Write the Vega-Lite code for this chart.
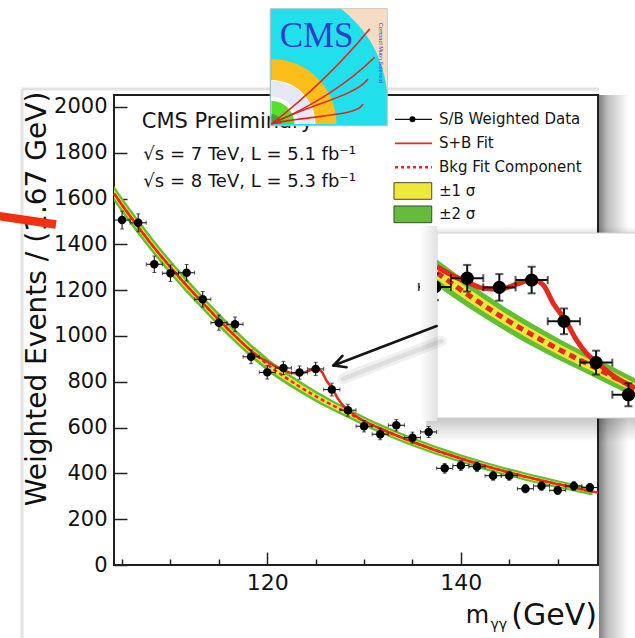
{
  "$schema": "https://vega.github.io/schema/vega-lite/v6.json",
  "width": 484,
  "height": 470,
  "autosize": {"type": "none"},
  "padding": {"left": 114, "top": 95, "right": 37, "bottom": 73},
  "background": "#ffffff",
  "config": {
    "view": {"stroke": "#1e1e1e", "strokeWidth": 2},
    "font": "DejaVu Sans",
    "axis": {"domain": false, "grid": false, "tickColor": "#222222", "tickWidth": 1.5, "labelColor": "#111111", "titleColor": "#111111", "labelFont": "DejaVu Sans", "titleFont": "DejaVu Sans", "titleFontWeight": "normal"}
  },
  "datasets": {
    "pts": [
      {"x": 105.00, "y": 1506, "lo": 1467, "hi": 1545, "xlo": 104.17, "xhi": 105.83},
      {"x": 106.67, "y": 1494, "lo": 1455, "hi": 1533, "xlo": 105.83, "xhi": 107.50},
      {"x": 108.33, "y": 1313, "lo": 1277, "hi": 1349, "xlo": 107.50, "xhi": 109.17},
      {"x": 110.00, "y": 1274, "lo": 1238, "hi": 1310, "xlo": 109.17, "xhi": 110.83},
      {"x": 111.67, "y": 1276, "lo": 1240, "hi": 1312, "xlo": 110.83, "xhi": 112.50},
      {"x": 113.33, "y": 1160, "lo": 1126, "hi": 1194, "xlo": 112.50, "xhi": 114.17},
      {"x": 115.00, "y": 1058, "lo": 1025, "hi": 1091, "xlo": 114.17, "xhi": 115.83},
      {"x": 116.67, "y": 1051, "lo": 1019, "hi": 1083, "xlo": 115.83, "xhi": 117.50},
      {"x": 118.33, "y": 909, "lo": 879, "hi": 939, "xlo": 117.50, "xhi": 119.17},
      {"x": 120.00, "y": 841, "lo": 812, "hi": 870, "xlo": 119.17, "xhi": 120.83},
      {"x": 121.67, "y": 860, "lo": 831, "hi": 889, "xlo": 120.83, "xhi": 122.50},
      {"x": 123.33, "y": 840, "lo": 811, "hi": 869, "xlo": 122.50, "xhi": 124.17},
      {"x": 125.00, "y": 856, "lo": 827, "hi": 885, "xlo": 124.17, "xhi": 125.83},
      {"x": 126.67, "y": 766, "lo": 738, "hi": 794, "xlo": 125.83, "xhi": 127.50},
      {"x": 128.33, "y": 676, "lo": 650, "hi": 702, "xlo": 127.50, "xhi": 129.17},
      {"x": 130.00, "y": 606, "lo": 581, "hi": 631, "xlo": 129.17, "xhi": 130.83},
      {"x": 131.67, "y": 571, "lo": 547, "hi": 595, "xlo": 130.83, "xhi": 132.50},
      {"x": 133.33, "y": 610, "lo": 585, "hi": 635, "xlo": 132.50, "xhi": 134.17},
      {"x": 135.00, "y": 556, "lo": 532, "hi": 580, "xlo": 134.17, "xhi": 135.83},
      {"x": 136.67, "y": 581, "lo": 557, "hi": 605, "xlo": 135.83, "xhi": 137.50},
      {"x": 138.33, "y": 422, "lo": 401, "hi": 443, "xlo": 137.50, "xhi": 139.17},
      {"x": 140.00, "y": 434, "lo": 413, "hi": 455, "xlo": 139.17, "xhi": 140.83},
      {"x": 141.67, "y": 429, "lo": 408, "hi": 450, "xlo": 140.83, "xhi": 142.50},
      {"x": 143.33, "y": 390, "lo": 370, "hi": 410, "xlo": 142.50, "xhi": 144.17},
      {"x": 145.00, "y": 390, "lo": 370, "hi": 410, "xlo": 144.17, "xhi": 145.83},
      {"x": 146.67, "y": 333, "lo": 315, "hi": 351, "xlo": 145.83, "xhi": 147.50},
      {"x": 148.33, "y": 345, "lo": 326, "hi": 364, "xlo": 147.50, "xhi": 149.17},
      {"x": 150.00, "y": 326, "lo": 308, "hi": 344, "xlo": 149.17, "xhi": 150.83},
      {"x": 151.67, "y": 345, "lo": 326, "hi": 364, "xlo": 150.83, "xhi": 152.50},
      {"x": 153.33, "y": 338, "lo": 320, "hi": 356, "xlo": 152.50, "xhi": 154.17}
    ],
    "bkg": [
      {"x": 104.17, "b": 1622, "lo1": 1605, "hi1": 1639, "lo2": 1588, "hi2": 1656},
      {"x": 105.00, "b": 1572, "lo1": 1555, "hi1": 1589, "lo2": 1538, "hi2": 1606},
      {"x": 106.67, "b": 1476, "lo1": 1460, "hi1": 1492, "lo2": 1443, "hi2": 1509},
      {"x": 108.33, "b": 1385, "lo1": 1369, "hi1": 1401, "lo2": 1352, "hi2": 1418},
      {"x": 110.00, "b": 1300, "lo1": 1284, "hi1": 1316, "lo2": 1268, "hi2": 1332},
      {"x": 111.67, "b": 1220, "lo1": 1204, "hi1": 1236, "lo2": 1188, "hi2": 1252},
      {"x": 113.33, "b": 1145, "lo1": 1130, "hi1": 1160, "lo2": 1114, "hi2": 1176},
      {"x": 115.00, "b": 1070, "lo1": 1055, "hi1": 1085, "lo2": 1039, "hi2": 1101},
      {"x": 116.67, "b": 1000, "lo1": 985, "hi1": 1015, "lo2": 970, "hi2": 1030},
      {"x": 118.33, "b": 935, "lo1": 920, "hi1": 950, "lo2": 905, "hi2": 965},
      {"x": 120.00, "b": 876, "lo1": 862, "hi1": 890, "lo2": 847, "hi2": 905},
      {"x": 120.11, "b": 872, "lo1": 858, "hi1": 886, "lo2": 843, "hi2": 901},
      {"x": 121.67, "b": 825, "lo1": 811, "hi1": 839, "lo2": 797, "hi2": 853},
      {"x": 123.33, "b": 779, "lo1": 766, "hi1": 792, "lo2": 753, "hi2": 805},
      {"x": 125.00, "b": 737, "lo1": 725, "hi1": 749, "lo2": 712, "hi2": 762},
      {"x": 126.67, "b": 699, "lo1": 687, "hi1": 711, "lo2": 676, "hi2": 722},
      {"x": 128.33, "b": 664, "lo1": 653, "hi1": 675, "lo2": 642, "hi2": 686},
      {"x": 130.00, "b": 628, "lo1": 618, "hi1": 638, "lo2": 607, "hi2": 649},
      {"x": 130.34, "b": 621, "lo1": 611, "hi1": 631, "lo2": 600, "hi2": 642},
      {"x": 131.67, "b": 596, "lo1": 586, "hi1": 606, "lo2": 575, "hi2": 617},
      {"x": 133.33, "b": 566, "lo1": 556, "hi1": 576, "lo2": 546, "hi2": 586},
      {"x": 135.00, "b": 538, "lo1": 528, "hi1": 548, "lo2": 518, "hi2": 558},
      {"x": 136.67, "b": 512, "lo1": 502, "hi1": 522, "lo2": 492, "hi2": 532},
      {"x": 138.33, "b": 488, "lo1": 479, "hi1": 497, "lo2": 469, "hi2": 507},
      {"x": 140.00, "b": 465, "lo1": 456, "hi1": 474, "lo2": 446, "hi2": 484},
      {"x": 141.67, "b": 443, "lo1": 434, "hi1": 452, "lo2": 424, "hi2": 462},
      {"x": 143.33, "b": 423, "lo1": 414, "hi1": 432, "lo2": 405, "hi2": 441},
      {"x": 145.00, "b": 404, "lo1": 395, "hi1": 413, "lo2": 386, "hi2": 422},
      {"x": 146.67, "b": 386, "lo1": 377, "hi1": 395, "lo2": 368, "hi2": 404},
      {"x": 148.33, "b": 369, "lo1": 360, "hi1": 378, "lo2": 351, "hi2": 387},
      {"x": 150.00, "b": 353, "lo1": 345, "hi1": 361, "lo2": 336, "hi2": 370},
      {"x": 151.67, "b": 338, "lo1": 330, "hi1": 346, "lo2": 321, "hi2": 355},
      {"x": 153.33, "b": 323, "lo1": 315, "hi1": 331, "lo2": 306, "hi2": 340},
      {"x": 153.60, "b": 321, "lo1": 313, "hi1": 329, "lo2": 304, "hi2": 338}
    ],
    "sb": [
      {"x": 104.17, "s": 1622}, {"x": 105.00, "s": 1572}, {"x": 106.67, "s": 1476},
      {"x": 108.33, "s": 1385}, {"x": 110.00, "s": 1300}, {"x": 111.67, "s": 1220},
      {"x": 113.33, "s": 1145}, {"x": 115.00, "s": 1070}, {"x": 116.67, "s": 1000},
      {"x": 118.33, "s": 935}, {"x": 119.20, "s": 907}, {"x": 120.11, "s": 885},
      {"x": 120.86, "s": 867}, {"x": 121.64, "s": 852}, {"x": 122.50, "s": 838},
      {"x": 123.36, "s": 836}, {"x": 124.22, "s": 847}, {"x": 125.05, "s": 857},
      {"x": 125.60, "s": 845}, {"x": 126.12, "s": 805}, {"x": 126.75, "s": 768},
      {"x": 127.32, "s": 725}, {"x": 127.84, "s": 696}, {"x": 128.44, "s": 674},
      {"x": 129.20, "s": 648}, {"x": 130.00, "s": 628}, {"x": 130.34, "s": 621},
      {"x": 131.67, "s": 596}, {"x": 133.33, "s": 566}, {"x": 135.00, "s": 538},
      {"x": 136.67, "s": 512}, {"x": 138.33, "s": 488}, {"x": 140.00, "s": 465},
      {"x": 141.67, "s": 443}, {"x": 143.33, "s": 423}, {"x": 145.00, "s": 404},
      {"x": 146.67, "s": 386}, {"x": 148.33, "s": 369}, {"x": 150.00, "s": 353},
      {"x": 151.67, "s": 338}, {"x": 153.33, "s": 323}, {"x": 154.17, "s": 316}
    ]
  },
  "resolve": {"scale": {"x": "independent", "y": "independent"}},
  "layer": [
    {
      "data": {"values": [{}]},
      "layer": [
        {
          "mark": {"type": "rule", "color": "#e2e2e2", "strokeWidth": 3},
          "encoding": {"x": {"datum": 94.66, "type": "quantitative"}, "y": {"datum": 2078, "type": "quantitative"}, "y2": {"datum": -328}}
        },
        {
          "mark": {"type": "rule", "color": "#e2e2e2", "strokeWidth": 3},
          "encoding": {"x": {"datum": 94.66, "type": "quantitative"}, "x2": {"datum": 154.27}, "y": {"datum": 2078, "type": "quantitative"}}
        },
        {
          "mark": {"type": "rect", "fill": {"gradient": "linear", "x1": 0, "y1": 0, "x2": 1, "y2": 0, "stops": [{"offset": 0, "color": "rgba(0,0,0,0.5)"}, {"offset": 0.3, "color": "rgba(0,0,0,0.25)"}, {"offset": 1, "color": "rgba(0,0,0,0)"}]}},
          "encoding": {"x": {"datum": 154.27, "type": "quantitative"}, "x2": {"datum": 157.3}, "y": {"datum": 2052, "type": "quantitative"}, "y2": {"datum": -328}}
        },
        {
          "data": {"name": "bkg"},
          "mark": {"type": "area", "color": "#62bf33", "interpolate": "monotone", "opacity": 1},
          "encoding": {
            "x": {
              "field": "x", "type": "quantitative",
              "scale": {"domain": [104.1667, 154.1667], "nice": false, "zero": false},
              "axis": {
                "title": null, "format": "d",
                "values": [105, 110, 115, 120, 125, 130, 135, 140, 145, 150],
                "labelExpr": "datum.value % 20 === 0 ? datum.label : ''",
                "labelFontSize": 22, "labelPadding": 20, "labelOverlap": false, "labelFlush": false,
                "tickSize": {"condition": {"test": "datum.value % 20 === 0", "value": -13}, "value": -6}
              }
            },
            "y": {
              "field": "lo2", "type": "quantitative",
              "scale": {"domain": [0, 2052], "nice": false, "zero": false},
              "axis": {
                "title": "Weighted Events / (1.67 GeV)", "format": "d",
                "values": [0, 50, 100, 150, 200, 250, 300, 350, 400, 450, 500, 550, 600, 650, 700, 750, 800, 850, 900, 950, 1000, 1050, 1100, 1150, 1200, 1250, 1300, 1350, 1400, 1450, 1500, 1550, 1600, 1650, 1700, 1750, 1800, 1850, 1900, 1950, 2000],
                "labelExpr": "datum.value % 200 === 0 ? datum.label : ''",
                "labelFontSize": 21, "labelPadding": 20, "labelOverlap": false, "labelFlush": false,
                "tickSize": {"condition": {"test": "datum.value % 200 === 0", "value": -13}, "value": -6},
                "titleFontSize": 28, "titleAngle": -90, "titleX": -77, "titleY": 203.5, "titleAlign": "center", "titleBaseline": "middle"
              }
            },
            "y2": {"field": "hi2"}
          }
        },
        {
          "data": {"name": "bkg"},
          "mark": {"type": "area", "color": "#efe63d", "interpolate": "monotone", "opacity": 1},
          "encoding": {"x": {"field": "x", "type": "quantitative"}, "y": {"field": "lo1", "type": "quantitative"}, "y2": {"field": "hi1"}}
        },
        {
          "data": {"name": "bkg"},
          "mark": {"type": "line", "color": "#e42a1f", "strokeWidth": 2.5, "strokeDash": [4, 3], "interpolate": "monotone"},
          "encoding": {"x": {"field": "x", "type": "quantitative"}, "y": {"field": "b", "type": "quantitative"}}
        },
        {
          "data": {"name": "sb"},
          "mark": {"type": "line", "color": "#e42a1f", "strokeWidth": 2.5, "interpolate": "monotone"},
          "encoding": {"x": {"field": "x", "type": "quantitative"}, "y": {"field": "s", "type": "quantitative"}}
        },
        {
          "data": {"name": "pts"},
          "mark": {"type": "rule", "color": "#1a1a1a", "strokeWidth": 1.1},
          "encoding": {"x": {"field": "x", "type": "quantitative"}, "y": {"field": "lo", "type": "quantitative"}, "y2": {"field": "hi"}}
        },
        {
          "data": {"name": "pts"},
          "mark": {"type": "rule", "color": "#1a1a1a", "strokeWidth": 1.1},
          "encoding": {"x": {"field": "xlo", "type": "quantitative"}, "x2": {"field": "xhi"}, "y": {"field": "y", "type": "quantitative"}}
        },
        {
          "data": {"name": "pts"},
          "mark": {"type": "tick", "orient": "horizontal", "color": "#1a1a1a", "size": 4, "thickness": 1},
          "encoding": {"x": {"field": "x", "type": "quantitative"}, "y": {"field": "hi", "type": "quantitative"}}
        },
        {
          "data": {"name": "pts"},
          "mark": {"type": "tick", "orient": "horizontal", "color": "#1a1a1a", "size": 4, "thickness": 1},
          "encoding": {"x": {"field": "x", "type": "quantitative"}, "y": {"field": "lo", "type": "quantitative"}}
        },
        {
          "data": {"name": "pts"},
          "mark": {"type": "tick", "orient": "vertical", "color": "#1a1a1a", "size": 4, "thickness": 1},
          "encoding": {"x": {"field": "xlo", "type": "quantitative"}, "y": {"field": "y", "type": "quantitative"}}
        },
        {
          "data": {"name": "pts"},
          "mark": {"type": "tick", "orient": "vertical", "color": "#1a1a1a", "size": 4, "thickness": 1},
          "encoding": {"x": {"field": "xhi", "type": "quantitative"}, "y": {"field": "y", "type": "quantitative"}}
        },
        {
          "data": {"name": "pts"},
          "mark": {"type": "circle", "color": "#000000", "size": 72, "opacity": 1},
          "encoding": {"x": {"field": "x", "type": "quantitative"}, "y": {"field": "y", "type": "quantitative"}}
        },
        {
          "mark": {"type": "text", "text": "CMS Preliminary", "font": "DejaVu Sans", "fontSize": 21, "color": "#151515", "align": "left", "baseline": "alphabetic"},
          "encoding": {"x": {"datum": 107.03, "type": "quantitative"}, "y": {"datum": 1909, "type": "quantitative"}}
        },
        {
          "mark": {"type": "text", "text": "√s = 7 TeV, L = 5.1 fb⁻¹", "font": "DejaVu Sans", "fontSize": 18, "color": "#151515", "align": "left", "baseline": "alphabetic"},
          "encoding": {"x": {"datum": 107.2, "type": "quantitative"}, "y": {"datum": 1768, "type": "quantitative"}}
        },
        {
          "mark": {"type": "text", "text": "√s = 8 TeV, L = 5.3 fb⁻¹", "font": "DejaVu Sans", "fontSize": 18, "color": "#151515", "align": "left", "baseline": "alphabetic"},
          "encoding": {"x": {"datum": 107.2, "type": "quantitative"}, "y": {"datum": 1650, "type": "quantitative"}}
        },
        {
          "mark": {"type": "text", "text": "m", "font": "DejaVu Sans", "fontSize": 24, "color": "#111111", "align": "left", "baseline": "alphabetic"},
          "encoding": {"x": {"datum": 140.5, "type": "quantitative"}, "y": {"datum": -255.4, "type": "quantitative"}}
        },
        {
          "mark": {"type": "text", "text": "γγ", "font": "DejaVu Sans", "fontSize": 14, "color": "#111111", "align": "left", "baseline": "alphabetic"},
          "encoding": {"x": {"datum": 143.05, "type": "quantitative"}, "y": {"datum": -279.4, "type": "quantitative"}}
        },
        {
          "mark": {"type": "text", "text": "(GeV)", "font": "DejaVu Sans", "fontSize": 30, "color": "#111111", "align": "right", "baseline": "alphabetic"},
          "encoding": {"x": {"datum": 154.06, "type": "quantitative"}, "y": {"datum": -262, "type": "quantitative"}}
        },
        {
          "mark": {"type": "rule", "color": "#111111", "strokeWidth": 1.3},
          "encoding": {"x": {"datum": 133.195, "type": "quantitative"}, "x2": {"datum": 137.02}, "y": {"datum": 1946, "type": "quantitative"}}
        },
        {
          "mark": {"type": "circle", "color": "#000000", "size": 36, "opacity": 1},
          "encoding": {"x": {"datum": 135.0, "type": "quantitative"}, "y": {"datum": 1946, "type": "quantitative"}}
        },
        {
          "mark": {"type": "rule", "color": "#e42a1f", "strokeWidth": 1.8},
          "encoding": {"x": {"datum": 133.195, "type": "quantitative"}, "x2": {"datum": 137.02}, "y": {"datum": 1841.2, "type": "quantitative"}}
        },
        {
          "mark": {"type": "rule", "color": "#e42a1f", "strokeWidth": 2.5, "strokeDash": [3, 3]},
          "encoding": {"x": {"datum": 133.195, "type": "quantitative"}, "x2": {"datum": 137.02}, "y": {"datum": 1736.4, "type": "quantitative"}}
        },
        {
          "mark": {"type": "rect", "fill": "#ede83a", "stroke": "#4a4a30", "strokeWidth": 1},
          "encoding": {"x": {"datum": 133.09, "type": "quantitative"}, "x2": {"datum": 136.99}, "y": {"datum": 1669.2, "type": "quantitative"}, "y2": {"datum": 1596.7}}
        },
        {
          "mark": {"type": "rect", "fill": "#66bb3c", "stroke": "#35502a", "strokeWidth": 1},
          "encoding": {"x": {"datum": 133.09, "type": "quantitative"}, "x2": {"datum": 136.99}, "y": {"datum": 1567.4, "type": "quantitative"}, "y2": {"datum": 1494.5}}
        },
        {
          "mark": {"type": "text", "text": "S/B Weighted Data", "font": "DejaVu Sans", "fontSize": 15, "color": "#151515", "align": "left", "baseline": "middle"},
          "encoding": {"x": {"datum": 137.74, "type": "quantitative"}, "y": {"datum": 1946, "type": "quantitative"}}
        },
        {
          "mark": {"type": "text", "text": "S+B Fit", "font": "DejaVu Sans", "fontSize": 15, "color": "#151515", "align": "left", "baseline": "middle"},
          "encoding": {"x": {"datum": 137.74, "type": "quantitative"}, "y": {"datum": 1841.2, "type": "quantitative"}}
        },
        {
          "mark": {"type": "text", "text": "Bkg Fit Component", "font": "DejaVu Sans", "fontSize": 15, "color": "#151515", "align": "left", "baseline": "middle"},
          "encoding": {"x": {"datum": 137.74, "type": "quantitative"}, "y": {"datum": 1736.4, "type": "quantitative"}}
        },
        {
          "mark": {"type": "text", "text": "±1 σ", "font": "DejaVu Sans", "fontSize": 15, "color": "#151515", "align": "left", "baseline": "middle"},
          "encoding": {"x": {"datum": 137.74, "type": "quantitative"}, "y": {"datum": 1632.9, "type": "quantitative"}}
        },
        {
          "mark": {"type": "text", "text": "±2 σ", "font": "DejaVu Sans", "fontSize": 15, "color": "#151515", "align": "left", "baseline": "middle"},
          "encoding": {"x": {"datum": 137.74, "type": "quantitative"}, "y": {"datum": 1531.2, "type": "quantitative"}}
        }
      ]
    },
    {
      "data": {"values": [{}]},
      "layer": [
        {
          "mark": {"type": "rect", "fill": {"gradient": "linear", "x1": 0, "y1": 0, "x2": 0, "y2": 1, "stops": [{"offset": 0, "color": "rgba(0,0,0,0)"}, {"offset": 1, "color": "rgba(0,0,0,0.1)"}]}},
          "encoding": {
            "x": {"datum": 120.11, "type": "quantitative", "scale": {"domain": [120.11, 130.34], "range": [323, 521], "nice": false, "zero": false}, "axis": null},
            "x2": {"datum": 131},
            "y": {"datum": 973.9, "type": "quantitative", "scale": {"domain": [555.2, 958.6], "range": [323, 138], "nice": false, "zero": false}, "axis": null},
            "y2": {"datum": 958.6}
          }
        },
        {
          "mark": {"type": "rect", "fill": {"gradient": "linear", "x1": 0, "y1": 0, "x2": 0, "y2": 1, "stops": [{"offset": 0, "color": "rgba(0,0,0,0.22)"}, {"offset": 1, "color": "rgba(0,0,0,0)"}]}},
          "encoding": {"x": {"datum": 119.55, "type": "quantitative", "axis": null}, "x2": {"datum": 131}, "y": {"datum": 555.2, "type": "quantitative", "axis": null}, "y2": {"datum": 502.9}}
        },
        {
          "mark": {"type": "rect", "fill": "#ffffff", "stroke": "#d0d0d0", "strokeWidth": 1},
          "encoding": {"x": {"datum": 120.11, "type": "quantitative", "axis": null}, "x2": {"datum": 131}, "y": {"datum": 555.2, "type": "quantitative", "axis": null}, "y2": {"datum": 958.6}}
        },
        {
          "data": {"name": "bkg"},
          "transform": [{"filter": "datum.x >= 120.1 && datum.x <= 130.35"}],
          "mark": {"type": "area", "color": "#62bf33", "interpolate": "monotone", "opacity": 1},
          "encoding": {"x": {"field": "x", "type": "quantitative", "axis": null}, "y": {"field": "lo2", "type": "quantitative", "axis": null}, "y2": {"field": "hi2"}}
        },
        {
          "data": {"name": "bkg"},
          "transform": [{"filter": "datum.x >= 120.1 && datum.x <= 130.35"}],
          "mark": {"type": "area", "color": "#efe63d", "interpolate": "monotone", "opacity": 1},
          "encoding": {"x": {"field": "x", "type": "quantitative", "axis": null}, "y": {"field": "lo1", "type": "quantitative", "axis": null}, "y2": {"field": "hi1"}}
        },
        {
          "data": {"name": "bkg"},
          "transform": [{"filter": "datum.x >= 120.1 && datum.x <= 130.35"}],
          "mark": {"type": "line", "color": "#e42a1f", "strokeWidth": 5, "strokeDash": [7, 5], "interpolate": "monotone"},
          "encoding": {"x": {"field": "x", "type": "quantitative", "axis": null}, "y": {"field": "b", "type": "quantitative", "axis": null}}
        },
        {
          "data": {"name": "sb"},
          "transform": [{"filter": "datum.x >= 120.1 && datum.x <= 130.35"}],
          "mark": {"type": "line", "color": "#e42a1f", "strokeWidth": 5, "interpolate": "monotone"},
          "encoding": {"x": {"field": "x", "type": "quantitative", "axis": null}, "y": {"field": "s", "type": "quantitative", "axis": null}}
        },
        {
          "data": {"name": "pts"},
          "transform": [{"filter": "datum.x >= 119.9 && datum.x <= 130.5"}],
          "mark": {"type": "rule", "color": "#111111", "strokeWidth": 2},
          "encoding": {"x": {"field": "x", "type": "quantitative", "axis": null}, "y": {"field": "lo", "type": "quantitative", "axis": null}, "y2": {"field": "hi"}}
        },
        {
          "data": {"name": "pts"},
          "transform": [{"filter": "datum.x >= 119.9 && datum.x <= 130.5"}],
          "mark": {"type": "rule", "color": "#111111", "strokeWidth": 2},
          "encoding": {"x": {"field": "xlo", "type": "quantitative", "axis": null}, "x2": {"field": "xhi"}, "y": {"field": "y", "type": "quantitative", "axis": null}}
        },
        {
          "data": {"name": "pts"},
          "transform": [{"filter": "datum.x >= 119.9 && datum.x <= 130.5"}],
          "mark": {"type": "tick", "orient": "horizontal", "color": "#111111", "size": 8, "thickness": 2},
          "encoding": {"x": {"field": "x", "type": "quantitative", "axis": null}, "y": {"field": "hi", "type": "quantitative", "axis": null}}
        },
        {
          "data": {"name": "pts"},
          "transform": [{"filter": "datum.x >= 119.9 && datum.x <= 130.5"}],
          "mark": {"type": "tick", "orient": "horizontal", "color": "#111111", "size": 8, "thickness": 2},
          "encoding": {"x": {"field": "x", "type": "quantitative", "axis": null}, "y": {"field": "lo", "type": "quantitative", "axis": null}}
        },
        {
          "data": {"name": "pts"},
          "transform": [{"filter": "datum.x >= 119.9 && datum.x <= 130.5"}],
          "mark": {"type": "tick", "orient": "vertical", "color": "#111111", "size": 8, "thickness": 2},
          "encoding": {"x": {"field": "xlo", "type": "quantitative", "axis": null}, "y": {"field": "y", "type": "quantitative", "axis": null}}
        },
        {
          "data": {"name": "pts"},
          "transform": [{"filter": "datum.x >= 119.9 && datum.x <= 130.5"}],
          "mark": {"type": "tick", "orient": "vertical", "color": "#111111", "size": 8, "thickness": 2},
          "encoding": {"x": {"field": "xhi", "type": "quantitative", "axis": null}, "y": {"field": "y", "type": "quantitative", "axis": null}}
        },
        {
          "data": {"name": "pts"},
          "transform": [{"filter": "datum.x >= 119.9 && datum.x <= 130.5"}],
          "mark": {"type": "circle", "color": "#000000", "size": 175, "opacity": 1},
          "encoding": {"x": {"field": "x", "type": "quantitative", "axis": null}, "y": {"field": "y", "type": "quantitative", "axis": null}}
        },
        {
          "mark": {"type": "rect", "fill": {"gradient": "linear", "x1": 0, "y1": 0, "x2": 1, "y2": 0, "stops": [{"offset": 0, "color": "#ffffff"}, {"offset": 1, "color": "#e2e2e2"}]}},
          "encoding": {"x": {"datum": 119.23, "type": "quantitative", "axis": null}, "x2": {"datum": 120.11}, "y": {"datum": 548.7, "type": "quantitative", "axis": null}, "y2": {"datum": 973.9}}
        }
      ]
    },
    {
      "data": {"values": [{}]},
      "layer": [
        {
          "mark": {"type": "rule", "color": "#f2300f", "strokeWidth": 8.5, "strokeCap": "butt"},
          "encoding": {
            "x": {"datum": 91.87, "type": "quantitative", "scale": {"domain": [104.1667, 154.1667], "nice": false, "zero": false}, "axis": null},
            "x2": {"datum": 98.175},
            "y": {"datum": 1526, "type": "quantitative", "scale": {"domain": [0, 2052], "nice": false, "zero": false}, "axis": null},
            "y2": {"datum": 1486.6}
          }
        },
        {
          "mark": {"type": "rule", "color": "rgba(0,0,0,0.06)", "strokeWidth": 11, "strokeCap": "round"},
          "encoding": {"x": {"datum": 137.95, "type": "quantitative", "axis": null}, "x2": {"datum": 127.82}, "y": {"datum": 978.0, "type": "quantitative", "axis": null}, "y2": {"datum": 812.1}}
        },
        {
          "mark": {"type": "rule", "color": "rgba(0,0,0,0.07)", "strokeWidth": 5, "strokeCap": "round"},
          "encoding": {"x": {"datum": 137.95, "type": "quantitative", "axis": null}, "x2": {"datum": 127.82}, "y": {"datum": 978.0, "type": "quantitative", "axis": null}, "y2": {"datum": 812.1}}
        },
        {
          "mark": {"type": "rule", "color": "#151515", "strokeWidth": 2.6, "strokeCap": "round"},
          "encoding": {"x": {"datum": 137.5, "type": "quantitative", "axis": null}, "x2": {"datum": 126.84}, "y": {"datum": 1043.5, "type": "quantitative", "axis": null}, "y2": {"datum": 871.0}}
        },
        {
          "mark": {"type": "rule", "color": "#151515", "strokeWidth": 2.6, "strokeCap": "round"},
          "encoding": {"x": {"datum": 126.84, "type": "quantitative", "axis": null}, "x2": {"datum": 127.77}, "y": {"datum": 871.0, "type": "quantitative", "axis": null}, "y2": {"datum": 913.4}}
        },
        {
          "mark": {"type": "rule", "color": "#151515", "strokeWidth": 2.6, "strokeCap": "round"},
          "encoding": {"x": {"datum": 126.84, "type": "quantitative", "axis": null}, "x2": {"datum": 128.19}, "y": {"datum": 871.0, "type": "quantitative", "axis": null}, "y2": {"datum": 863.2}}
        },
        {
          "mark": {"type": "point", "shape": "M -1 -1 L 1 -1 L 1 1 L -1 1 Z", "size": 13689, "filled": true, "fill": "#22dfec", "stroke": "#bdbdbd", "strokeWidth": 1, "opacity": 1},
          "encoding": {"x": {"datum": 126.35, "type": "quantitative", "axis": null}, "y": {"datum": 2173.2, "type": "quantitative", "axis": null}}
        },
        {
          "mark": {"type": "point", "shape": "M 0.209 -1 L 1 -1 L 1 0.423 C 0.935 -0.162 0.672 -0.637 0.209 -1 Z", "size": 13689, "filled": true, "fill": "#f7dcc5", "opacity": 1},
          "encoding": {"x": {"datum": 126.35, "type": "quantitative", "axis": null}, "y": {"datum": 2173.2, "type": "quantitative", "axis": null}}
        },
        {
          "mark": {"type": "point", "shape": "M -0.98 0.97 L -0.98 -0.141 C -0.3664 -0.141 0.131 0.3564 0.131 0.97 Z", "size": 13689, "filled": true, "fill": "#fbbe1a", "opacity": 1},
          "encoding": {"x": {"datum": 126.35, "type": "quantitative", "axis": null}, "y": {"datum": 2173.2, "type": "quantitative", "axis": null}}
        },
        {
          "mark": {"type": "point", "shape": "M -0.98 0.97 L -0.98 0.218 C -0.5647 0.218 -0.228 0.5547 -0.228 0.97 Z", "size": 13689, "filled": true, "fill": "#ffffff", "opacity": 1},
          "encoding": {"x": {"datum": 126.35, "type": "quantitative", "axis": null}, "y": {"datum": 2173.2, "type": "quantitative", "axis": null}}
        },
        {
          "mark": {"type": "point", "shape": "M -0.98 0.97 L -0.98 0.235 C -0.5741 0.235 -0.245 0.5641 -0.245 0.97 Z", "size": 13689, "filled": true, "fill": "#e8e7f6", "opacity": 1},
          "encoding": {"x": {"datum": 126.35, "type": "quantitative", "axis": null}, "y": {"datum": 2173.2, "type": "quantitative", "axis": null}}
        },
        {
          "mark": {"type": "point", "shape": "M -0.98 0.97 L -0.98 0.508 C -0.7248 0.508 -0.518 0.7148 -0.518 0.97 Z", "size": 13689, "filled": true, "fill": "#ffffff", "opacity": 1},
          "encoding": {"x": {"datum": 126.35, "type": "quantitative", "axis": null}, "y": {"datum": 2173.2, "type": "quantitative", "axis": null}}
        },
        {
          "mark": {"type": "point", "shape": "M -0.98 0.97 L -0.98 0.577 C -0.7629 0.577 -0.587 0.7529 -0.587 0.97 Z", "size": 13689, "filled": true, "fill": "#58df2a", "opacity": 1},
          "encoding": {"x": {"datum": 126.35, "type": "quantitative", "axis": null}, "y": {"datum": 2173.2, "type": "quantitative", "axis": null}}
        },
        {
          "mark": {"type": "point", "shape": "M -0.98 0.97 L -0.98 0.8 C -0.8861 0.8 -0.81 0.8761 -0.81 0.97 Z", "size": 13689, "filled": true, "fill": "#3aa733", "opacity": 1},
          "encoding": {"x": {"datum": 126.35, "type": "quantitative", "axis": null}, "y": {"datum": 2173.2, "type": "quantitative", "axis": null}}
        },
        {
          "mark": {"type": "point", "shape": "M -0.98 0.97 Q -0.05 0.25 0.7 -0.654", "size": 13689, "filled": false, "color": "#e3251f", "strokeWidth": 1.6, "opacity": 1},
          "encoding": {"x": {"datum": 126.35, "type": "quantitative", "axis": null}, "y": {"datum": 2173.2, "type": "quantitative", "axis": null}}
        },
        {
          "mark": {"type": "point", "shape": "M -0.98 0.97 Q 0.1 0.5 0.785 -0.17", "size": 13689, "filled": false, "color": "#e3251f", "strokeWidth": 1.6, "opacity": 1},
          "encoding": {"x": {"datum": 126.35, "type": "quantitative", "axis": null}, "y": {"datum": 2173.2, "type": "quantitative", "axis": null}}
        },
        {
          "mark": {"type": "point", "shape": "M -0.98 0.97 C -0.3 0.62 0.45 0.5 0.671 0.2", "size": 13689, "filled": false, "color": "#e3251f", "strokeWidth": 1.6, "opacity": 1},
          "encoding": {"x": {"datum": 126.35, "type": "quantitative", "axis": null}, "y": {"datum": 2173.2, "type": "quantitative", "axis": null}}
        },
        {
          "mark": {"type": "point", "shape": "M -0.98 0.97 C -0.4 0.82 0.5 0.85 0.585 0.628", "size": 13689, "filled": false, "color": "#e3251f", "strokeWidth": 1.6, "opacity": 1},
          "encoding": {"x": {"datum": 126.35, "type": "quantitative", "axis": null}, "y": {"datum": 2173.2, "type": "quantitative", "axis": null}}
        },
        {
          "mark": {"type": "text", "text": "CMS", "font": "Liberation Serif", "fontSize": 35, "color": "#2a3fcf", "align": "left", "baseline": "alphabetic"},
          "encoding": {"x": {"datum": 121.28, "type": "quantitative", "axis": null}, "y": {"datum": 2260.3, "type": "quantitative", "axis": null}}
        },
        {
          "mark": {"type": "text", "text": "Compact Muon Solenoid", "font": "Liberation Sans", "fontSize": 5.5, "angle": 90, "color": "#2a3fcf", "align": "center", "baseline": "middle"},
          "encoding": {"x": {"datum": 131.8, "type": "quantitative", "axis": null}, "y": {"datum": 2236.3, "type": "quantitative", "axis": null}}
        }
      ]
    }
  ]
}
